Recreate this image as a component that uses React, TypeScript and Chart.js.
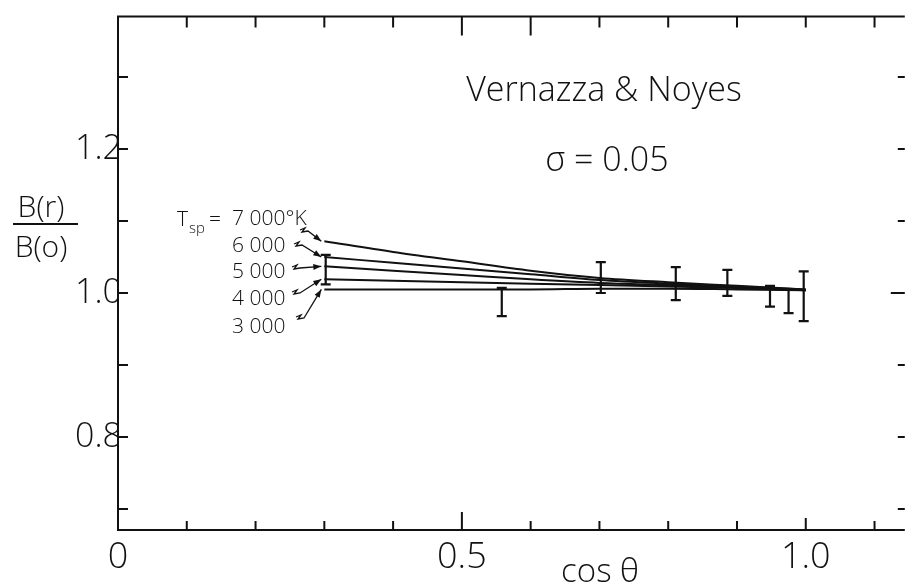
import React, { useEffect, useRef } from "react";
import { Chart, registerables } from "chart.js";
Chart.register(...registerables);

// ---- data ----
const cosTheta = [0.3, 0.4, 0.5, 0.6, 0.7, 0.8, 0.9, 1.0];
const t7000 = [1.072, 1.057, 1.044, 1.031, 1.021, 1.015, 1.01, 1.005];
const t6000 = [1.05, 1.042, 1.034, 1.026, 1.018, 1.013, 1.009, 1.005];
const t5000 = [1.037, 1.031, 1.025, 1.019, 1.014, 1.011, 1.008, 1.004];
const t4000 = [1.019, 1.017, 1.015, 1.013, 1.011, 1.009, 1.007, 1.004];
const t3000 = [1.005, 1.005, 1.005, 1.005, 1.006, 1.006, 1.005, 1.004];

const errX = [0.302, 0.558, 0.702, 0.811, 0.886, 0.948, 0.975, 0.997];
const errLow = [1.012, 0.968, 1.0, 0.99, 0.996, 0.981, 0.972, 0.961];
const errHigh = [1.053, 1.007, 1.043, 1.036, 1.032, 1.01, 1.005, 1.03];

const xTicks = [0, 0.1, 0.2, 0.3, 0.4, 0.5, 0.6, 0.7, 0.8, 0.9, 1.0, 1.1];
const xTickLabels = ["0", "", "", "", "", "0.5", "", "", "", "", "1.0", ""];
const yTicks = [0.7, 0.8, 0.9, 1.0, 1.1, 1.2, 1.3];
const yTickLabels = ["", "0.8", "", "1.0", "", "1.2", ""];

const legendLabels = ["7 000°K", "6 000", "5 000", "4 000", "3 000"];
const seriesList = [t7000, t6000, t5000, t4000, t3000];

const titleText = "Vernazza & Noyes";
const sigmaText = "σ = 0.05";
const xTitle = "cos θ";

const FONT = "'Open Sans', 'Liberation Sans', sans-serif";
const INK = "#111";

const framePlugin = {
  id: "frame",
  afterDraw(chart: any) {
    const ctx = chart.ctx;
    const a = chart.chartArea;
    const xs = chart.scales.x;
    const ys = chart.scales.y;
    ctx.save();
    ctx.strokeStyle = INK;
    ctx.fillStyle = INK;
    ctx.lineWidth = 2;
    ctx.lineCap = "butt";
    // frame (left, top, bottom)
    ctx.beginPath();
    ctx.moveTo(a.right, a.top);
    ctx.lineTo(a.left, a.top);
    ctx.lineTo(a.left, a.bottom);
    ctx.lineTo(a.right, a.bottom);
    ctx.stroke();
    // x ticks
    xTicks.forEach((v) => {
      if (v === 0) return;
      const px = xs.getPixelForValue(v);
      const bl = Math.abs(v - 0.5) < 1e-6 ? 18 : Math.abs(v - 1.0) < 1e-6 ? 12 : 9;
      const tl = Math.abs(v - 0.5) < 1e-6 || Math.abs(v - 0.6) < 1e-6 ? 19 : 11;
      ctx.beginPath();
      ctx.moveTo(px, a.bottom);
      ctx.lineTo(px, a.bottom - bl);
      ctx.moveTo(px, a.top);
      ctx.lineTo(px, a.top + tl);
      ctx.stroke();
    });
    // y ticks
    yTicks.forEach((v) => {
      const py = ys.getPixelForValue(v);
      ctx.beginPath();
      ctx.moveTo(a.left, py);
      ctx.lineTo(a.left + 10, py);
      const rl = Math.abs(v - 1.0) < 1e-6 ? 14 : 7;
      ctx.moveTo(a.right, py);
      ctx.lineTo(a.right - rl, py);
      ctx.stroke();
    });

    // titles
    ctx.textBaseline = "alphabetic";
    ctx.textAlign = "center";
    ctx.font = `300 34px ${FONT}`;
    ctx.fillText(titleText, 604, 101);
    ctx.font = `300 34px ${FONT}`;
    ctx.fillText(sigmaText, 607, 171);
    ctx.font = `300 33px ${FONT}`;
    ctx.fillText(xTitle, 600, 582);

    // y-axis fraction label
    ctx.font = `300 30px ${FONT}`;
    ctx.fillText("B(r)", 41, 217);
    ctx.fillText("B(o)", 41, 257);
    ctx.lineWidth = 2;
    ctx.beginPath();
    ctx.moveTo(13, 224);
    ctx.lineTo(78, 224);
    ctx.stroke();

    // legend labels
    ctx.textAlign = "left";
    ctx.font = `300 21px ${FONT}`;
    ctx.fillText("T", 177, 226);
    ctx.font = `300 15px ${FONT}`;
    ctx.fillText("sp", 189, 233);
    ctx.font = `300 21px ${FONT}`;
    ctx.fillText("=", 209, 226);
    const baselines = [225, 252, 278, 305, 333];
    const starts = [[300, 231], [294, 245], [292, 268], [292, 293], [296, 318]];
    legendLabels.forEach((lab, i) => {
      ctx.fillText(lab, 232, baselines[i]);
      const s = seriesList[i];
      const ex = xs.getPixelForValue(cosTheta[0]) - 3;
      const ey = ys.getPixelForValue(s[0]);
      const [sx, sy] = starts[i];
      ctx.lineWidth = 1.3;
      ctx.beginPath();
      ctx.moveTo(sx, sy - 1);
      ctx.lineTo(sx + 5, sy - 3);
      ctx.lineTo(sx + 2, sy + 1);
      ctx.lineTo(sx + 8, sy);
      ctx.lineTo(ex, ey);
      ctx.stroke();
      const ang = Math.atan2(ey - sy, ex - (sx + 8));
      ctx.beginPath();
      ctx.moveTo(ex, ey);
      ctx.lineTo(ex - 8 * Math.cos(ang) + 3 * Math.sin(ang), ey - 8 * Math.sin(ang) - 3 * Math.cos(ang));
      ctx.lineTo(ex - 8 * Math.cos(ang) - 3 * Math.sin(ang), ey - 8 * Math.sin(ang) + 3 * Math.cos(ang));
      ctx.closePath();
      ctx.fill();
    });
    ctx.restore();
  },
};

export default function App() {
  const ref = useRef<HTMLCanvasElement | null>(null);
  useEffect(() => {
    if (!ref.current) return;
    const lineSets = seriesList.map((s, i) => ({
      label: legendLabels[i],
      data: cosTheta.map((x, j) => ({ x, y: s[j] })),
      borderColor: INK,
      borderWidth: 2,
      pointRadius: 0,
      fill: false,
      cubicInterpolationMode: "monotone" as const,
    }));
    const errSets = errX.map((x, i) => ({
      label: "err" + i,
      data: [
        { x, y: errLow[i] },
        { x, y: errHigh[i] },
      ],
      borderColor: INK,
      borderWidth: 2.2,
      pointStyle: "line" as const,
      pointRadius: 5,
      pointBorderWidth: 2.2,
      pointBorderColor: INK,
      showLine: true,
      fill: false,
    }));
    const chart = new Chart(ref.current, {
      type: "line",
      data: { datasets: [...lineSets, ...errSets] as any },
      plugins: [framePlugin],
      options: {
        animation: false,
        responsive: false,
        maintainAspectRatio: false,
        layout: { padding: { top: 14, right: 0, left: 0, bottom: 0 } },
        plugins: { legend: { display: false }, tooltip: { enabled: false }, title: { display: false } },
        scales: {
          x: {
            type: "linear",
            min: 0,
            max: 1.144,
            grid: { display: false, drawTicks: false, tickLength: 0 },
            border: { display: false },
            afterBuildTicks: (s: any) => {
              s.ticks = xTicks.map((v) => ({ value: v }));
            },
            afterFit: (s: any) => {
              s.height = 58;
            },
            ticks: {
              autoSkip: false,
              maxRotation: 0,
              padding: 6,
              color: INK,
              font: { family: FONT, size: 36, weight: "300" as any },
              callback: (_v: any, i: number) => xTickLabels[i],
            },
          },
          y: {
            type: "linear",
            min: 0.671,
            max: 1.384,
            grid: { display: false, drawTicks: false, tickLength: 0 },
            border: { display: false },
            afterBuildTicks: (s: any) => {
              s.ticks = yTicks.map((v) => ({ value: v }));
            },
            afterFit: (s: any) => {
              s.width = 118;
            },
            ticks: {
              autoSkip: false,
              padding: -4,
              color: INK,
              font: { family: FONT, size: 34, weight: "300" as any },
              callback: (_v: any, i: number) => yTickLabels[i],
            },
          },
        },
      },
    });
    return () => chart.destroy();
  }, []);
  return (
    <canvas
      ref={ref}
      width={912}
      height={588}
      style={{ position: "absolute", left: 0, top: 0, width: 912, height: 588, background: "#fff" }}
    />
  );
}
